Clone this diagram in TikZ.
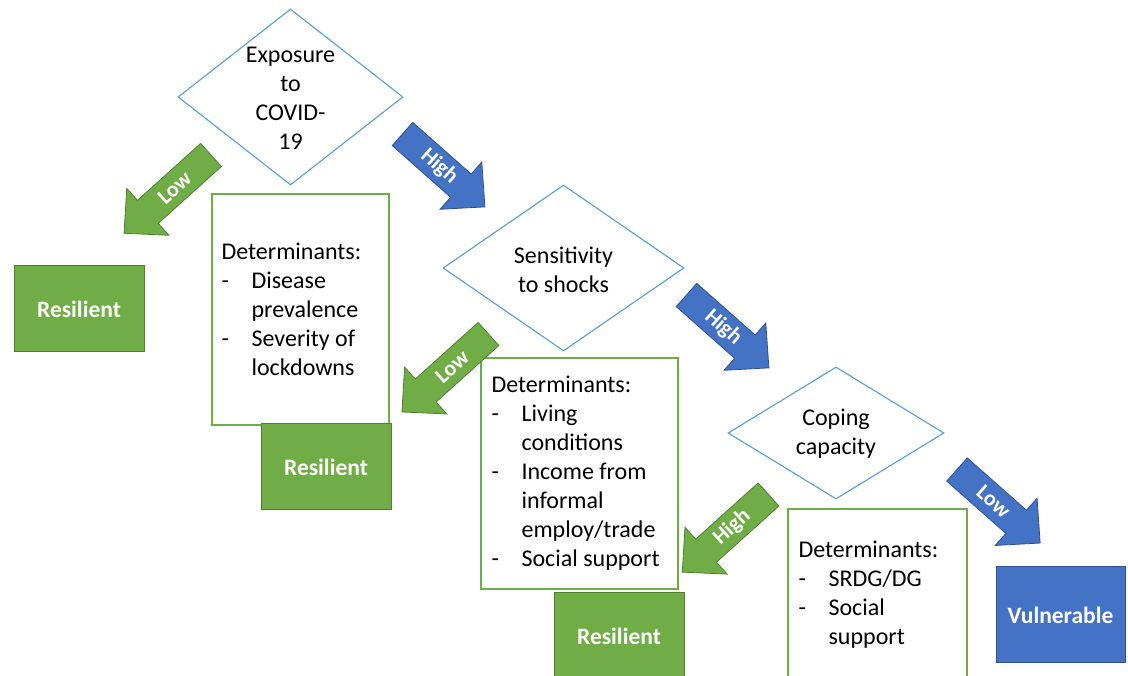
\documentclass[tikz,border=0pt]{standalone}
\usepackage{fontspec}
\setmainfont{Carlito}
\usetikzlibrary{shapes.geometric}
\definecolor{gfill}{HTML}{70AD47}
\definecolor{gline}{HTML}{507E32}
\definecolor{bfill}{HTML}{4472C4}
\definecolor{bline}{HTML}{2F528F}
\definecolor{dline}{HTML}{5B9BD5}
\newcommand{\dashitem}{\makebox[30pt][l]{-}}
\newcommand{\contitem}{\makebox[30pt][l]{}}
% #1 name, #2 tail, #3 angle, #4 length, #5 fill, #6 line, #7 label, #8 label rotation
\newcommand{\blockarrow}[8]{%
  \begin{scope}[shift={#2}, rotate=#3]
    \filldraw[fill=#5, draw=#6, line width=0.8pt, line join=miter]
      (0,-15.5) -- ({#4-32},-15.5) -- ({#4-32},-31.5) -- (#4,0) --
      ({#4-32},31.5) -- ({#4-32},15.5) -- (0,15.5) -- cycle;
    \node[arrowlabel, transform shape, rotate=#8] (#1) at (49,0) {#7};
  \end{scope}}
\begin{document}
\begin{tikzpicture}[x=1pt, y=1pt,
  decision/.style={diamond, draw=dline, line width=1.1pt, fill=white, inner sep=0pt},
  dtext/.style={align=center, font=\fontsize{24}{29}\selectfont, inner sep=0pt},
  resbox/.style={rectangle, fill=gfill, draw=gline, line width=1pt, text=white,
    font=\fontsize{23.5}{28}\selectfont\bfseries, minimum width=130pt, minimum height=86pt, inner sep=0pt},
  vulbox/.style={rectangle, fill=bfill, draw=bline, line width=1pt, text=white,
    font=\fontsize{23.5}{28}\selectfont\bfseries, minimum width=129pt, minimum height=96pt, inner sep=0pt},
  detbox/.style={rectangle, draw=gfill, line width=1.2pt, fill=white, inner sep=0pt},
  dettext/.style={align=left, anchor=west, font=\fontsize{24}{29}\selectfont, inner sep=0pt},
  arrowlabel/.style={text=white, font=\fontsize{22}{26}\selectfont\bfseries, inner sep=0pt}]
\useasboundingbox (0,0) rectangle (1128,676);
\fill[white] (0,0) rectangle (1128,676);
\begin{scope}
\clip (0,0) rectangle (1128,676);
% decision diamonds
\node[decision, minimum width=225pt, minimum height=176pt] (d1) at (290.5,579) {};
\node[dtext] (d1t) at (290.5,577.5) {Exposure\\to\\COVID-\\19};
\node[decision, minimum width=241pt, minimum height=166pt] (d2) at (563.5,408) {};
\node[dtext] (d2t) at (563.5,406.5) {Sensitivity\\to shocks};
\node[decision, minimum width=216pt, minimum height=132pt] (d3) at (836,243) {};
\node[dtext] (d3t) at (836,242) {Coping\\capacity};
% determinant boxes
\node[detbox, minimum width=177pt, minimum height=231pt] (det1) at (300.5,366.5) {};
\node[dettext] (det1t) at ([xshift=10pt]det1.west) {Determinants:\\\dashitem Disease\\\contitem prevalence\\\dashitem Severity of\\\contitem lockdowns};
\node[detbox, minimum width=197pt, minimum height=231pt] (det2) at (579.5,202.5) {};
\node[dettext] (det2t) at ([xshift=11pt]det2.west) {Determinants:\\\dashitem Living\\\contitem conditions\\\dashitem Income from\\\contitem informal\\\contitem employ/trade\\\dashitem Social support};
\node[detbox, minimum width=179pt, minimum height=172pt] (det3) at (877.5,81) {};
\node[dettext] (det3t) at ([xshift=11pt]det3.west) {Determinants:\\\dashitem SRDG/DG\\\dashitem Social\\\contitem support};
% outcome boxes
\node[resbox] (r1) at (79,367) {Resilient};
\node[resbox] (r2) at (326,209) {Resilient};
\node[resbox] (r3) at (619,40) {Resilient};
\node[vulbox] (v1) at (1060.5,61) {Vulnerable};
% block arrows
\blockarrow{a1}{(211,521)}{222}{117}{gfill}{gline}{Low}{180}
\blockarrow{a2}{(402.5,542)}{-41.5}{110}{bfill}{bline}{High}{0}
\blockarrow{a3}{(488.5,342)}{222}{116.5}{gfill}{gline}{Low}{180}
\blockarrow{a4}{(686.5,381)}{-41.5}{110}{bfill}{bline}{High}{0}
\blockarrow{a5}{(768.5,181.5)}{222}{116}{gfill}{gline}{High}{180}
\blockarrow{a6}{(957,206.5)}{-41.5}{111}{bfill}{bline}{Low}{0}
\end{scope}
\end{tikzpicture}
\end{document}
